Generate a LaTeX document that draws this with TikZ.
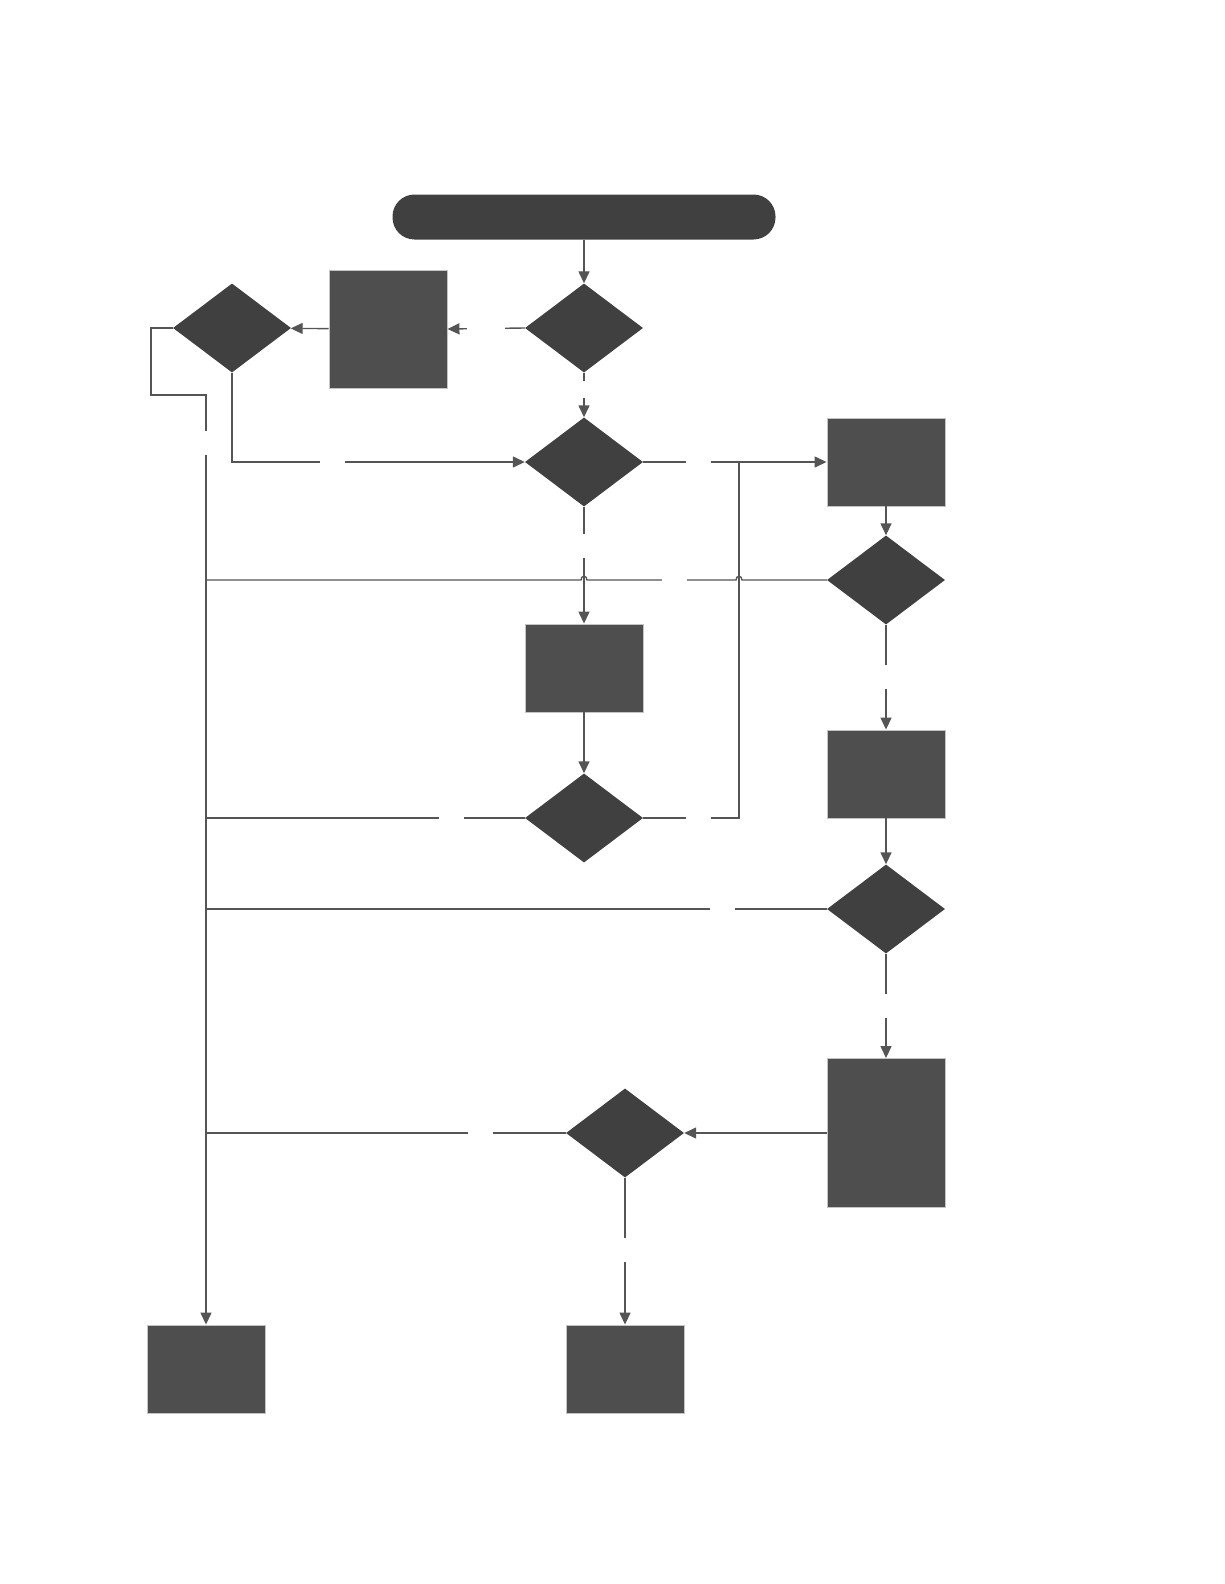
\documentclass[tikz,border=0pt]{standalone}
\usepackage{tikz}
\usetikzlibrary{arrows.meta,positioning,calc,shapes.geometric}
\definecolor{FlowLine}{HTML}{555555}
\definecolor{FlowBox}{HTML}{4E4E4E}
\definecolor{FlowDec}{HTML}{404040}
\definecolor{FlowEdge}{HTML}{C4C4C4}

\begin{document}
\begin{tikzpicture}[x=1pt, y=-1pt, >={Triangle[length=12pt,width=11pt]},
  term/.style={rounded corners=22pt, fill=FlowDec, minimum width=383pt, minimum height=45pt, inner sep=0pt},
  proc/.style={draw=FlowEdge, line width=0.9pt, fill=FlowBox, minimum width=118pt, minimum height=88pt, inner sep=0pt},
  decide/.style={diamond, fill=FlowDec, minimum width=118pt, minimum height=89pt, inner sep=0pt},
  flow/.style={line width=1.4pt, FlowLine},
  hgap/.style={fill=white, inner sep=0pt, minimum width=25pt, minimum height=5pt},
  vgap/.style={fill=white, inner sep=0pt, minimum width=5pt, minimum height=24pt}]
\useasboundingbox (0,0) rectangle (1224,1584);

\node[term] (start) at (584,217) {};
\node[decide] (d1) at (584,328) {};
\node[proc, minimum height=118pt] (b1) at (388,329) {};
\node[decide] (d0) at (232,328) {};
\node[decide] (d2) at (584,462) {};
\node[proc] (b2) at (886,462) {};
\node[decide] (d3) at (886,580) {};
\node[proc] (b3) at (584,668) {};
\node[decide] (d4) at (584,818) {};
\node[proc] (b4) at (886,774) {};
\node[decide] (d5) at (886,909) {};
\node[proc, minimum height=149pt] (b5) at (886,1133) {};
\node[decide] (d6) at (625,1133) {};
\node[proc] (endl) at (206,1369) {};
\node[proc] (endr) at (625,1369) {};

\coordinate (rail) at (206,395);
\coordinate (jn) at (739,462);

% straight arrows
\foreach \a/\b in {start/d1,b1/d0,b3/d4,b2/d3,b4/d5,b5/d6}{\draw[flow,->] (\a) -- (\b);}

% branches with gaps
\draw[flow,->] (d1.west) -- node[hgap, minimum width=38pt, pos=0.5] (g1) {} (b1.east);
\draw[flow,->] (d1.south) -- node[vgap, minimum height=17pt, pos=0.375] (g2) {} (d2.north);
\draw[flow,->] (d0.south) |- node[hgap, pos=0.672] (g3) {} (d2.west);
\draw[flow,->] (d0.west) -- ++(-22,0) |- (rail) -- node[vgap, pos=0.052] (g4) {} (endl.north);
\draw[flow,->] (d2.east) -- node[hgap, pos=0.30] (g5) {} (b2.west);
\draw[flow,->] (d2.south) -- node[vgap, pos=0.34] (g6) {} (b3.north);
\draw[flow] (d3.west) -- (742,580) .. controls (742,575) and (736,575) .. (736,580)
  -- node[hgap, pos=0.41] (g7) {} (587,580) .. controls (587,575) and (581,575) .. (581,580)
  -- (rail |- d3.west);
\draw[flow] (d4.west) -- node[hgap, pos=0.23] (g8) {} (rail |- d4.west);
\draw[flow] (d4.east) -| node[hgap, pos=0.287] (g9) {} (jn);
\draw[flow,->] (d3.south) -- node[vgap, pos=0.50] (g10) {} (b4.north);
\draw[flow] (d5.west) -- node[hgap, pos=0.168] (g11) {} (rail |- d5.west);
\draw[flow,->] (d5.south) -- node[vgap, pos=0.50] (g12) {} (b5.north);
\draw[flow] (d6.west) -- node[hgap, pos=0.238] (g13) {} (rail |- d6.west);
\draw[flow,->] (d6.south) -- node[vgap, pos=0.49] (g14) {} (endr.north);

\end{tikzpicture}
\end{document}
